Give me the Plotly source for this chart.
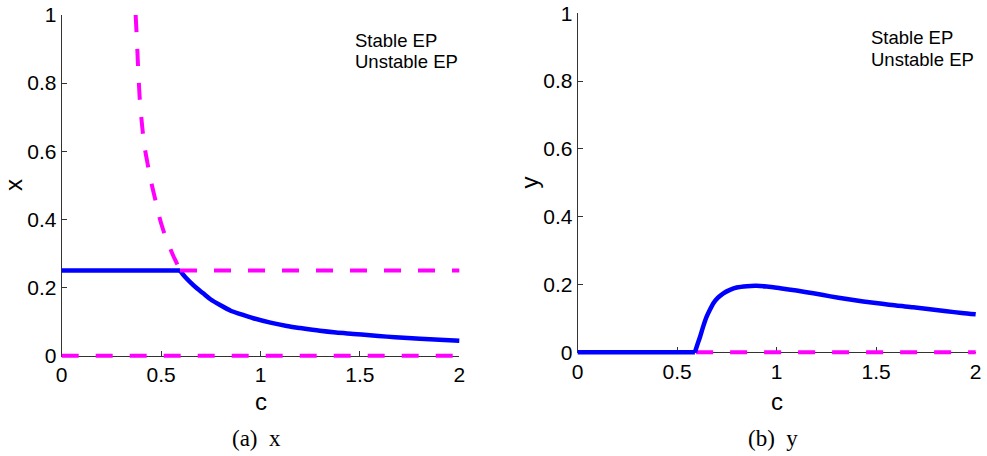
import plotly.graph_objects as go

# ---------------- data ----------------
c_ticks = [0, 0.5, 1, 1.5, 2]
c_tick_text = ["0", "0.5", "1", "1.5", "2"]
v_ticks = [0, 0.2, 0.4, 0.6, 0.8, 1]
v_tick_text = ["0", "0.2", "0.4", "0.6", "0.8", "1"]

# panel (a): x
c_x_stable_flat = [0.0, 0.595]
x_stable_flat = [0.25, 0.25]
c_x_stable_curve = [0.595, 0.62, 0.645, 0.68, 0.712, 0.75, 0.796, 0.85, 0.9, 0.964, 1.05,
                    1.132, 1.2, 1.299, 1.38, 1.467, 1.55, 1.635, 1.72, 1.802, 1.9, 2.0]
x_stable_curve = [0.25, 0.232, 0.217, 0.198, 0.183, 0.165, 0.149, 0.132, 0.122, 0.110, 0.097,
                  0.087, 0.081, 0.073, 0.068, 0.064, 0.060, 0.056, 0.053, 0.050, 0.047, 0.044]
c_x_unstable_hi = [0.372, 0.378, 0.384, 0.392, 0.402, 0.415, 0.43, 0.45, 0.47, 0.49, 0.51,
                   0.535, 0.56, 0.58, 0.595]
x_unstable_hi = [1.0, 0.93, 0.85, 0.76, 0.69, 0.62, 0.57, 0.51, 0.46, 0.41, 0.37,
                 0.33, 0.295, 0.27, 0.25]
c_x_unstable_mid = [0.595, 2.0]
x_unstable_mid = [0.25, 0.25]
c_x_unstable_zero = [0.0, 2.0]
x_unstable_zero = [0.0, 0.0]

# panel (b): y
c_y_stable_flat = [0.0, 0.589]
y_stable_flat = [0.0, 0.0]
c_y_stable_curve = [0.589, 0.6, 0.615, 0.63, 0.648, 0.665, 0.681, 0.705, 0.732, 0.765, 0.799,
                    0.85, 0.899, 0.95, 1.017, 1.1, 1.184, 1.27, 1.352, 1.435, 1.519, 1.6, 1.686,
                    1.77, 1.854, 1.93, 2.0]
y_stable_curve = [0.0, 0.02, 0.046, 0.075, 0.105, 0.126, 0.144, 0.161, 0.174, 0.184, 0.191,
                  0.195, 0.196, 0.194, 0.189, 0.182, 0.174, 0.165, 0.157, 0.150, 0.144, 0.138, 0.133,
                  0.127, 0.121, 0.116, 0.112]
c_y_unstable = [0.595, 2.0]
y_unstable = [0.0, 0.0]

legend_labels = ["Stable EP", "Unstable EP"]
captions = ["(a)\u00a0\u00a0x", "(b)\u00a0\u00a0y"]
axis_titles = [("c", "x"), ("c", "y")]

# ---------------- layout geometry ----------------
W, H = 987, 456
panels = [
    dict(x0=61.7, x1=459.3, yt=15.0, yb=355.7),
    dict(x0=577.7, x1=975.7, yt=13.3, yb=352.3),
]
PAD = 8
BLUE = "#0000FF"
MAG = "#FF00FF"
AX = "#333333"
SANS = "Liberation Sans, Arial, Helvetica, sans-serif"
SERIF = "Liberation Serif, Times New Roman, serif"
W_STABLE = 4.5
W_UNSTABLE = 4

fig = go.Figure()

layout = dict(
    width=W, height=H,
    margin=dict(l=0, r=0, t=0, b=0, pad=0),
    paper_bgcolor="white",
    plot_bgcolor="rgba(0,0,0,0)",
    showlegend=False,
    annotations=[],
)

for i, p in enumerate(panels):
    vis_x = "xaxis" if i == 0 else "xaxis2"
    vis_y = "yaxis" if i == 0 else "yaxis2"
    xa_id = "x" if i == 0 else "x2"
    ya_id = "y" if i == 0 else "y2"
    dx = "xaxis3" if i == 0 else "xaxis4"
    dy = "yaxis3" if i == 0 else "yaxis4"
    dxa = "x3" if i == 0 else "x4"
    dya = "y3" if i == 0 else "y4"

    xdom = [p["x0"] / W, p["x1"] / W]
    ydom = [1 - p["yb"] / H, 1 - p["yt"] / H]
    common = dict(showline=True, linecolor=AX, linewidth=1, ticks="inside", ticklen=5,
                  tickcolor=AX, tickwidth=1, showgrid=False, zeroline=False,
                  tickfont=dict(family=SANS, size=21, color="black"),
                  fixedrange=True, visible=True, automargin=False)
    layout[vis_x] = dict(domain=xdom, range=[0, 2], anchor=ya_id, tickmode="array",
                         tickvals=c_ticks, ticktext=c_tick_text, **common)
    layout[vis_y] = dict(domain=ydom, range=[0, 1], anchor=xa_id, tickmode="array",
                         tickvals=v_ticks, ticktext=v_tick_text, **common)

    # data axes: same scale, slightly larger area so lines on the edges are not clipped
    pw = p["x1"] - p["x0"]
    ph = p["yb"] - p["yt"]
    ex = PAD * 2 / pw
    ey = PAD * 1 / ph
    layout[dx] = dict(domain=[(p["x0"] - PAD) / W, (p["x1"] + PAD) / W],
                      range=[-ex, 2 + ex], anchor=dya, visible=False, fixedrange=True,
                      automargin=False)
    layout[dy] = dict(domain=[1 - (p["yb"] + PAD) / H, 1 - (p["yt"] - PAD) / H],
                      range=[-ey, 1 + ey], anchor=dxa, visible=False, fixedrange=True,
                      automargin=False)

    # axis titles
    cx = (p["x0"] + p["x1"]) / 2
    cy = (p["yt"] + p["yb"]) / 2
    layout["annotations"].append(dict(
        text=axis_titles[i][0], x=cx / W, y=1 - 401 / H, xref="paper", yref="paper",
        xanchor="center", yanchor="middle", showarrow=False,
        font=dict(family=SANS, size=24, color="black")))
    layout["annotations"].append(dict(
        text=axis_titles[i][1], x=(p["x0"] - 48) / W, y=1 - cy / H, xref="paper", yref="paper",
        xanchor="center", yanchor="middle", showarrow=False, textangle=-90,
        font=dict(family=SANS, size=24, color="black")))
    # caption
    layout["annotations"].append(dict(
        text=captions[i], x=(cx - 4) / W, y=1 - 438 / H, xref="paper", yref="paper",
        xanchor="center", yanchor="middle", showarrow=False,
        font=dict(family=SERIF, size=23, color="black")))
    # legend texts
    lx = [353, 869][i]
    ly = [[40, 61], [37.5, 59]][i]
    for lab, yy in zip(legend_labels, ly):
        layout["annotations"].append(dict(
            text=lab, x=lx / W, y=1 - yy / H, xref="paper", yref="paper",
            xanchor="left", yanchor="middle", showarrow=False,
            font=dict(family=SANS, size=18.5, color="black")))

# empty traces so the framed (visible) axes get their subplots drawn
fig.add_trace(go.Scatter(x=[], y=[], mode="lines", xaxis="x", yaxis="y", hoverinfo="skip"))
fig.add_trace(go.Scatter(x=[], y=[], mode="lines", xaxis="x2", yaxis="y2", hoverinfo="skip"))

dash = "17px,17px"
# panel (a)
fig.add_trace(go.Scatter(x=c_x_unstable_zero, y=x_unstable_zero, mode="lines", xaxis="x3", yaxis="y3",
                         line=dict(color=MAG, width=W_UNSTABLE, dash=dash), hoverinfo="skip"))
fig.add_trace(go.Scatter(x=c_x_stable_flat, y=x_stable_flat, mode="lines", xaxis="x3", yaxis="y3",
                         line=dict(color=BLUE, width=W_STABLE), hoverinfo="skip"))
fig.add_trace(go.Scatter(x=c_x_stable_curve, y=x_stable_curve, mode="lines", xaxis="x3", yaxis="y3",
                         line=dict(color=BLUE, width=W_STABLE, shape="spline", smoothing=0.8),
                         hoverinfo="skip"))
fig.add_trace(go.Scatter(x=c_x_unstable_hi, y=x_unstable_hi, mode="lines", xaxis="x3", yaxis="y3",
                         line=dict(color=MAG, width=W_UNSTABLE, dash=dash, shape="spline",
                                   smoothing=0.8),
                         hoverinfo="skip"))
fig.add_trace(go.Scatter(x=c_x_unstable_mid, y=x_unstable_mid, mode="lines", xaxis="x3", yaxis="y3",
                         line=dict(color=MAG, width=W_UNSTABLE, dash=dash), hoverinfo="skip"))
# panel (b)
fig.add_trace(go.Scatter(x=c_y_unstable, y=y_unstable, mode="lines", xaxis="x4", yaxis="y4",
                         line=dict(color=MAG, width=W_UNSTABLE, dash=dash), hoverinfo="skip"))
fig.add_trace(go.Scatter(x=c_y_stable_flat, y=y_stable_flat, mode="lines", xaxis="x4", yaxis="y4",
                         line=dict(color=BLUE, width=W_STABLE), hoverinfo="skip"))
fig.add_trace(go.Scatter(x=c_y_stable_curve, y=y_stable_curve, mode="lines", xaxis="x4", yaxis="y4",
                         line=dict(color=BLUE, width=W_STABLE, shape="spline", smoothing=0.8),
                         hoverinfo="skip"))

fig.update_layout(**layout)
fig.write_html("out.html", post_script="document.body.style.margin='0';",
               config={"displayModeBar": False})
